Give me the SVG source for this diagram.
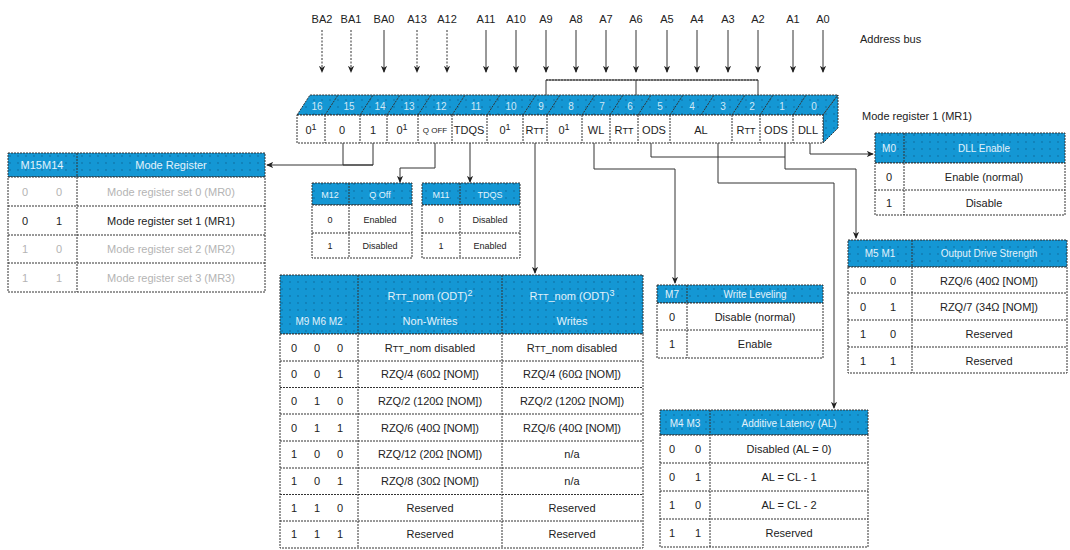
<svg xmlns="http://www.w3.org/2000/svg" width="1070" height="550" viewBox="0 0 1070 550">
<style>
text{font-family:"Liberation Sans",Arial,sans-serif;font-size:11px;fill:#222;}
.c{text-anchor:middle;}
.h{fill:#e2f2fb;}
.g{fill:#b4b4b4;}
.hd{fill:url(#dots);stroke:#333;stroke-width:1;stroke-dasharray:2 1;}
.cell{fill:#fff;stroke:#333;stroke-width:1;stroke-dasharray:2 1;}
.ln{stroke:#333;stroke-width:1;stroke-dasharray:2 1;fill:none;}
.con{stroke:#333;stroke-width:1;fill:none;}
.bus{stroke:#333;stroke-width:1;fill:none;marker-end:url(#ah);}
.dsh{stroke-dasharray:2 1.5;}
.sm{font-size:9px;}
.bit{fill:#cfe8f6;font-size:10px;text-anchor:middle;}
</style>
<defs>
<pattern id="dots" width="8" height="7" patternUnits="userSpaceOnUse">
<rect width="8" height="7" fill="#1497d4"/>
<circle cx="2" cy="2" r="0.7" fill="#0a5f8e"/>
</pattern>
<marker id="ah" viewBox="0 0 8 8" refX="7" refY="4" markerWidth="7" markerHeight="7" orient="auto">
<path d="M0,0.5 L8,4 L0,7.5 L2,4 z" fill="#222"/>
</marker>
</defs>

<g id="address-bus">
<g class="c">
<text x="322" y="23">BA2</text><text x="351" y="23">BA1</text><text x="384" y="23">BA0</text>
<text x="417" y="23">A13</text><text x="447" y="23">A12</text><text x="486" y="23">A11</text>
<text x="516" y="23">A10</text><text x="546" y="23">A9</text><text x="576" y="23">A8</text>
<text x="606" y="23">A7</text><text x="636" y="23">A6</text><text x="667" y="23">A5</text>
<text x="697" y="23">A4</text><text x="728" y="23">A3</text><text x="758" y="23">A2</text>
<text x="793" y="23">A1</text><text x="823" y="23">A0</text>
</g>
<text x="860" y="43">Address bus</text>
<path class="bus dsh" d="M322,30V72"/><path class="bus dsh" d="M351,30V72"/><path class="bus" d="M384,30V72"/>
<path class="bus dsh" d="M417,30V72"/><path class="bus dsh" d="M447,30V72"/><path class="bus" d="M486,30V72"/>
<path class="bus" d="M516,30V72"/><path class="bus" d="M546,30V72"/><path class="bus" d="M576,30V72"/>
<path class="bus" d="M606,30V72"/><path class="bus" d="M636,30V72"/><path class="bus" d="M667,30V72"/>
<path class="bus" d="M697,30V72"/><path class="bus" d="M728,30V72"/><path class="bus" d="M758,30V72"/>
<path class="bus" d="M793,30V72"/><path class="bus" d="M823,30V72"/>
<path class="con" d="M546,95V80H758V95 M636,80V95"/>
<path class="ln" d="M546,80H758"/>
</g>

<g id="register">
<polygon points="297,115 310,95 838,95 823,115" class="hd"/>
<polygon points="823,115 838,95 838,128 823,143" class="hd"/>
<g class="ln">
<path d="M325,115l13,-20 M360,115l13,-20 M387,115l13,-20 M418,115l13,-20 M452,115l13,-20 M487,115l13,-20 M523,115l13,-20 M547,115l13,-20 M582,115l13,-20 M610,115l13,-20 M638,115l13,-20 M670,115l13,-20 M701,115l13,-20 M732,115l13,-20 M760,115l13,-20 M793,115l13,-20"/>
</g>
<text class="bit" x="317" y="110">16</text><text class="bit" x="349" y="110">15</text><text class="bit" x="380" y="110">14</text>
<text class="bit" x="409" y="110">13</text><text class="bit" x="441" y="110">12</text><text class="bit" x="476" y="110">11</text>
<text class="bit" x="511" y="110">10</text><text class="bit" x="541" y="110">9</text><text class="bit" x="571" y="110">8</text>
<text class="bit" x="602" y="110">7</text><text class="bit" x="630" y="110">6</text><text class="bit" x="660" y="110">5</text>
<text class="bit" x="692" y="110">4</text><text class="bit" x="723" y="110">3</text><text class="bit" x="752" y="110">2</text>
<text class="bit" x="782" y="110">1</text><text class="bit" x="814" y="110">0</text>
<rect class="cell" x="297" y="115" width="526" height="28"/>
<path class="ln" d="M325,115V143 M360,115V143 M387,115V143 M418,115V143 M452,115V143 M487,115V143 M523,115V143 M547,115V143 M582,115V143 M610,115V143 M638,115V143 M670,115V143 M732,115V143 M760,115V143 M793,115V143"/>
<g class="c">
<text x="311" y="134">0<tspan class="sm" dy="-4">1</tspan></text>
<text x="342" y="134">0</text>
<text x="373" y="134">1</text>
<text x="402" y="134">0<tspan class="sm" dy="-4">1</tspan></text>
<text x="435" y="133" style="font-size:8px">Q OFF</text>
<text x="469" y="134">TDQS</text>
<text x="505" y="134">0<tspan class="sm" dy="-4">1</tspan></text>
<text x="535" y="134">R<tspan class="sm">TT</tspan></text>
<text x="564" y="134">0<tspan class="sm" dy="-4">1</tspan></text>
<text x="596" y="134">WL</text>
<text x="624" y="134">R<tspan class="sm">TT</tspan></text>
<text x="654" y="134">ODS</text>
<text x="701" y="134">AL</text>
<text x="746" y="134">R<tspan class="sm">TT</tspan></text>
<text x="776" y="134">ODS</text>
<text x="808" y="134">DLL</text>
</g>
<text x="862" y="120">Mode register 1 (MR1)</text>
</g>

<g id="connectors">
<path class="con" d="M343,143V165 M373,143V165H267" marker-end="url(#ah)"/>
<path class="con" d="M343,165H373"/>
<path class="con" d="M435,143V168H400V182" marker-end="url(#ah)"/>
<path class="con" d="M470,143V182" marker-end="url(#ah)"/>
<path class="con" d="M535,143V273" marker-end="url(#ah)"/>
<path class="con" d="M594,143V169H675V283" marker-end="url(#ah)"/>
<path class="con" d="M810,143V154H873" marker-end="url(#ah)"/>
<path class="con" d="M651,143V157H785V143"/>
<path class="con" d="M785,157V169H856V238" marker-end="url(#ah)"/>
<path class="con" d="M718,143V183H834V408" marker-end="url(#ah)"/>
</g>

<g id="table-mode-register">
<rect class="hd" x="8" y="153" width="257" height="24"/>
<rect class="cell" x="8" y="177" width="257" height="115"/>
<path class="ln" d="M8,206H265 M8,235H265 M8,263H265 M77,153V292"/>
<text class="c h" x="42" y="169">M15M14</text>
<text class="c h" x="171" y="169">Mode Register</text>
<text class="c g" x="25" y="196">0</text><text class="c g" x="59" y="196">0</text><text class="c g" x="171" y="196">Mode register set 0 (MR0)</text>
<text class="c" x="25" y="225">0</text><text class="c" x="59" y="225">1</text><text class="c" x="171" y="225">Mode register set 1 (MR1)</text>
<text class="c g" x="25" y="253">1</text><text class="c g" x="59" y="253">0</text><text class="c g" x="171" y="253">Mode register set 2 (MR2)</text>
<text class="c g" x="25" y="282">1</text><text class="c g" x="59" y="282">1</text><text class="c g" x="171" y="282">Mode register set 3 (MR3)</text>
</g>

<g id="table-qoff">
<rect class="hd" x="312" y="183" width="100" height="22"/>
<rect class="cell" x="312" y="205" width="100" height="53"/>
<path class="ln" d="M312,233H412 M349,183V258"/>
<text class="c h" x="330" y="198" style="font-size:9px">M12</text>
<text class="c h" x="380" y="198" style="font-size:9px">Q Off</text>
<text class="c" x="330" y="223" style="font-size:9px">0</text><text class="c" x="380" y="223" style="font-size:9px">Enabled</text>
<text class="c" x="330" y="249" style="font-size:9px">1</text><text class="c" x="380" y="249" style="font-size:9px">Disabled</text>
</g>

<g id="table-tdqs">
<rect class="hd" x="422" y="183" width="98" height="22"/>
<rect class="cell" x="422" y="205" width="98" height="53"/>
<path class="ln" d="M422,233H520 M460,183V258"/>
<text class="c h" x="441" y="198" style="font-size:9px">M11</text>
<text class="c h" x="490" y="198" style="font-size:9px">TDQS</text>
<text class="c" x="441" y="223" style="font-size:9px">0</text><text class="c" x="490" y="223" style="font-size:9px">Disabled</text>
<text class="c" x="441" y="249" style="font-size:9px">1</text><text class="c" x="490" y="249" style="font-size:9px">Enabled</text>
</g>

<g id="table-rtt">
<rect class="hd" x="280" y="275" width="363" height="59"/>
<rect class="cell" x="280" y="334" width="363" height="214"/>
<path class="ln" d="M280,361H643 M280,387.5H643 M280,414H643 M280,441H643 M280,468H643 M280,494.5H643 M280,521H643 M358,275V548 M502,275V548"/>
<text class="c h" x="319" y="325" style="font-size:10px">M9 M6 M2</text>
<text class="c h" x="430" y="300">R<tspan class="sm">TT</tspan>_nom (ODT)<tspan class="sm" dy="-4">2</tspan></text>
<text class="c h" x="430" y="325">Non-Writes</text>
<text class="c h" x="572" y="300">R<tspan class="sm">TT</tspan>_nom (ODT)<tspan class="sm" dy="-4">3</tspan></text>
<text class="c h" x="572" y="325">Writes</text>
<g class="c">
<text x="294" y="352">0</text><text x="317" y="352">0</text><text x="340" y="352">0</text>
<text x="294" y="378">0</text><text x="317" y="378">0</text><text x="340" y="378">1</text>
<text x="294" y="405">0</text><text x="317" y="405">1</text><text x="340" y="405">0</text>
<text x="294" y="432">0</text><text x="317" y="432">1</text><text x="340" y="432">1</text>
<text x="294" y="458">1</text><text x="317" y="458">0</text><text x="340" y="458">0</text>
<text x="294" y="485">1</text><text x="317" y="485">0</text><text x="340" y="485">1</text>
<text x="294" y="512">1</text><text x="317" y="512">1</text><text x="340" y="512">0</text>
<text x="294" y="538">1</text><text x="317" y="538">1</text><text x="340" y="538">1</text>
<text x="430" y="352">R<tspan class="sm">TT</tspan>_nom disabled</text><text x="572" y="352">R<tspan class="sm">TT</tspan>_nom disabled</text>
<text x="430" y="378">RZQ/4 (60Ω [NOM])</text><text x="572" y="378">RZQ/4 (60Ω [NOM])</text>
<text x="430" y="405">RZQ/2 (120Ω [NOM])</text><text x="572" y="405">RZQ/2 (120Ω [NOM])</text>
<text x="430" y="432">RZQ/6 (40Ω [NOM])</text><text x="572" y="432">RZQ/6 (40Ω [NOM])</text>
<text x="430" y="458">RZQ/12 (20Ω [NOM])</text><text x="572" y="458">n/a</text>
<text x="430" y="485">RZQ/8 (30Ω [NOM])</text><text x="572" y="485">n/a</text>
<text x="430" y="512">Reserved</text><text x="572" y="512">Reserved</text>
<text x="430" y="538">Reserved</text><text x="572" y="538">Reserved</text>
</g>
</g>

<g id="table-write-leveling">
<rect class="hd" x="657" y="285" width="166" height="18"/>
<rect class="cell" x="657" y="303" width="166" height="55"/>
<path class="ln" d="M657,330H823 M687,285V358"/>
<text class="c h" x="672" y="298" style="font-size:10px">M7</text>
<text class="c h" x="755" y="298" style="font-size:10px">Write Leveling</text>
<text class="c" x="672" y="321">0</text><text class="c" x="755" y="321">Disable (normal)</text>
<text class="c" x="672" y="348">1</text><text class="c" x="755" y="348">Enable</text>
</g>

<g id="table-al">
<rect class="hd" x="660" y="410" width="208" height="25"/>
<rect class="cell" x="660" y="435" width="208" height="112"/>
<path class="ln" d="M660,463H868 M660,491H868 M660,519H868 M710,410V547"/>
<text class="c h" x="685" y="427" style="font-size:10px">M4  M3</text>
<text class="c h" x="789" y="427" style="font-size:10px">Additive Latency (AL)</text>
<text class="c" x="672" y="453">0</text><text class="c" x="698" y="453">0</text><text class="c" x="789" y="453">Disabled (AL = 0)</text>
<text class="c" x="672" y="481">0</text><text class="c" x="698" y="481">1</text><text class="c" x="789" y="481">AL = CL - 1</text>
<text class="c" x="672" y="509">1</text><text class="c" x="698" y="509">0</text><text class="c" x="789" y="509">AL = CL - 2</text>
<text class="c" x="672" y="537">1</text><text class="c" x="698" y="537">1</text><text class="c" x="789" y="537">Reserved</text>
</g>

<g id="table-dll">
<rect class="hd" x="875" y="133" width="190" height="30"/>
<rect class="cell" x="875" y="163" width="190" height="52"/>
<path class="ln" d="M875,190H1065 M904,133V215"/>
<text class="c h" x="889" y="152" style="font-size:10px">M0</text>
<text class="c h" x="984" y="152" style="font-size:10px">DLL Enable</text>
<text class="c" x="889" y="181">0</text><text class="c" x="984" y="181">Enable (normal)</text>
<text class="c" x="889" y="207">1</text><text class="c" x="984" y="207">Disable</text>
</g>

<g id="table-ods">
<rect class="hd" x="848" y="240" width="219" height="27"/>
<rect class="cell" x="848" y="267" width="219" height="106"/>
<path class="ln" d="M848,293H1067 M848,320H1067 M848,347H1067 M912,240V373"/>
<text class="c h" x="880" y="257" style="font-size:10px">M5  M1</text>
<text class="c h" x="989" y="257" style="font-size:10px">Output Drive Strength</text>
<text class="c" x="863" y="285">0</text><text class="c" x="893" y="285">0</text><text class="c" x="989" y="285">RZQ/6 (40Ω [NOM])</text>
<text class="c" x="863" y="311">0</text><text class="c" x="893" y="311">1</text><text class="c" x="989" y="311">RZQ/7 (34Ω [NOM])</text>
<text class="c" x="863" y="338">1</text><text class="c" x="893" y="338">0</text><text class="c" x="989" y="338">Reserved</text>
<text class="c" x="863" y="365">1</text><text class="c" x="893" y="365">1</text><text class="c" x="989" y="365">Reserved</text>
</g>
</svg>
